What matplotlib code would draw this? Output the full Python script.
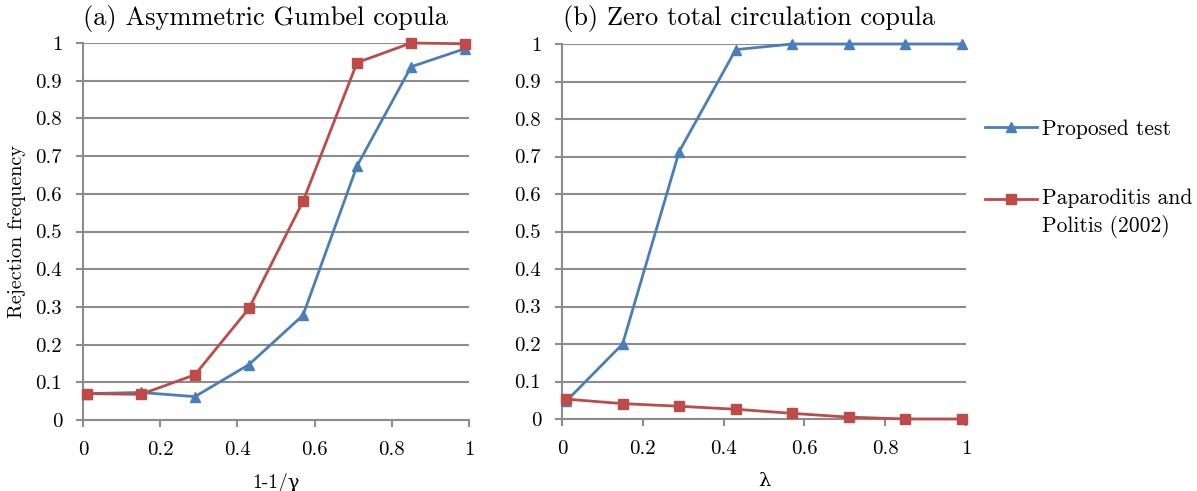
import matplotlib
matplotlib.use("Agg")
import matplotlib.pyplot as plt
from matplotlib.lines import Line2D
from matplotlib.legend_handler import HandlerLine2D

plt.rcParams['font.family'] = ['cmr10', 'DejaVu Serif']
plt.rcParams['axes.formatter.use_mathtext'] = True

x_vals = [0.01, 0.15, 0.29, 0.43, 0.57, 0.71, 0.85, 0.99]
a_proposed = [0.070, 0.073, 0.062, 0.147, 0.278, 0.674, 0.937, 0.985]
a_pp = [0.070, 0.068, 0.120, 0.296, 0.580, 0.948, 1.000, 0.998]
b_proposed = [0.047, 0.200, 0.713, 0.985, 1.000, 1.000, 1.000, 1.000]
b_pp = [0.053, 0.041, 0.034, 0.026, 0.015, 0.005, 0.000, 0.000]

titles = ["(a) Asymmetric Gumbel copula", "(b) Zero total circulation copula"]
xlabels = ["1-1/γ", "λ"]
xticks = [0, 0.2, 0.4, 0.6, 0.8, 1.0]
xticklabels = ["0", "0.2", "0.4", "0.6", "0.8", "1"]
yticks = [0, 0.1, 0.2, 0.3, 0.4, 0.5, 0.6, 0.7, 0.8, 0.9, 1.0]
yticklabels = ["0", "0.1", "0.2", "0.3", "0.4", "0.5", "0.6", "0.7", "0.8", "0.9", "1"]
legend_labels = ["Proposed test", "Paparoditis and\nPolitis (2002)"]

BLUE = "#4a7ebb"
RED = "#be4b48"
GRID = "#8c8c8c"

W, H = 1197, 491
fig = plt.figure(figsize=(W / 100, H / 100), dpi=100)

def px(l, r, t, b):
    return [l / W, 1 - b / H, (r - l) / W, (b - t) / H]

ax_a = fig.add_axes(px(83, 469, 43, 420))
ax_b = fig.add_axes(px(562, 966, 44, 419))

for ax, prop, pp, title, xl, tx in [
    (ax_a, a_proposed, a_pp, titles[0], xlabels[0], 83),
    (ax_b, b_proposed, b_pp, titles[1], xlabels[1], 563),
]:
    ax.set_xlim(0, 1)
    ax.set_ylim(0, 1)
    ax.set_yticks(yticks)
    ax.set_yticklabels(yticklabels, fontsize=15)
    ax.set_xticks(xticks)
    ax.set_xticklabels(xticklabels, fontsize=15)
    ax.grid(axis='y', color=GRID, linewidth=1.5)
    ax.set_axisbelow(True)
    for s in ['top', 'right']:
        ax.spines[s].set_visible(False)
    for s in ['left', 'bottom']:
        ax.spines[s].set_color(GRID)
        ax.spines[s].set_linewidth(1.5)
    ax.tick_params(axis='y', color=GRID, width=1.5, length=5, pad=10)
    ax.tick_params(axis='x', color=GRID, width=1.5, length=5, pad=10)
    ax.plot(x_vals, prop, color=BLUE, marker='^', markersize=7.5, linewidth=2, clip_on=False, zorder=3)
    ax.plot(x_vals, pp, color=RED, marker='s', markersize=7, linewidth=2, clip_on=False, zorder=4)
    fig.text(tx / W, 1 - 19 / H, title, fontsize=19, ha='left', va='center')
    ax.set_xlabel(xl, fontsize=14, labelpad=10)

ax_a.set_ylabel("Rejection frequency", fontsize=14.5)
ax_a.yaxis.set_label_coords(-57 / 386, 0.5)


class ShiftedHandler(HandlerLine2D):
    def __init__(self, shift, **kw):
        super().__init__(**kw)
        self.shift = shift

    def create_artists(self, legend, orig_handle, xdescent, ydescent,
                       width, height, fontsize, trans):
        arts = super().create_artists(legend, orig_handle, xdescent, ydescent,
                                      width, height, fontsize, trans)
        for a in arts:
            a.set_ydata([y + self.shift for y in a.get_ydata()])
        return arts


h_blue = Line2D([], [], color=BLUE, marker='^', markersize=7.5, linewidth=2)
h_red = Line2D([], [], color=RED, marker='s', markersize=7, linewidth=2)
leg = fig.legend([h_blue, h_red], legend_labels, loc='upper left',
                 bbox_to_anchor=(985 / W, 1 - 119 / H),
                 frameon=False, fontsize=15.5, handlelength=2.4, handletextpad=0.25,
                 labelspacing=2.3, borderpad=0, borderaxespad=0,
                 handler_map={h_red: ShiftedHandler(10.5)})
for t in leg.get_texts():
    t.set_linespacing(1.45)

fig.savefig("out.png", dpi=100)
